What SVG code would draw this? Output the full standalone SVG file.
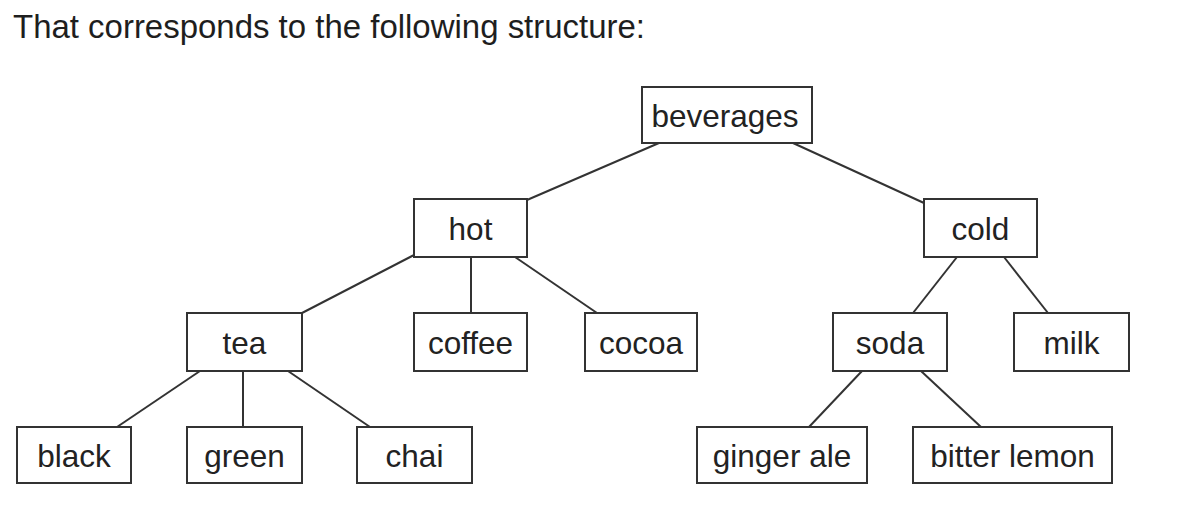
<svg xmlns="http://www.w3.org/2000/svg" width="1190" height="508" viewBox="0 0 1190 508">
<style>
.title{font-family:"Liberation Sans",Arial,sans-serif;font-size:33px;fill:#1e1e1e}
.box{fill:#fff;stroke:#333;stroke-width:2}
.lbl{font-family:"Liberation Sans",Arial,sans-serif;font-size:31.5px;fill:#222;text-anchor:middle}
.edge{stroke:#333;stroke-width:2;fill:none}
</style>
<rect width="1190" height="508" fill="#fff"/>
<text class="title" x="13" y="38" textLength="632" lengthAdjust="spacingAndGlyphs">That corresponds to the following structure:</text>
<g id="connectors">
<line class="edge" x1="659" y1="143" x2="527" y2="200"/>
<line class="edge" x1="793" y1="143" x2="924" y2="203"/>
<line class="edge" x1="414" y1="255" x2="302" y2="313"/>
<line class="edge" x1="471" y1="257" x2="471" y2="313"/>
<line class="edge" x1="515" y1="257" x2="597" y2="313"/>
<line class="edge" x1="200" y1="371" x2="117" y2="427"/>
<line class="edge" x1="243" y1="371" x2="243" y2="427"/>
<line class="edge" x1="288" y1="371" x2="370" y2="427"/>
<line class="edge" x1="957" y1="257" x2="913" y2="313"/>
<line class="edge" x1="1004" y1="257" x2="1048" y2="313"/>
<line class="edge" x1="862" y1="371" x2="809" y2="427"/>
<line class="edge" x1="921" y1="371" x2="981" y2="427"/>
</g>
<g id="beverages"><rect class="box" x="642" y="87" width="170" height="56"/><text class="lbl" x="725" y="127">beverages</text></g>
<g id="hot"><rect class="box" x="414" y="199" width="113" height="58"/><text class="lbl" x="470.5" y="240">hot</text></g>
<g id="cold"><rect class="box" x="924" y="199" width="113" height="58"/><text class="lbl" x="980.5" y="240">cold</text></g>
<g id="tea"><rect class="box" x="187" y="313" width="115" height="58"/><text class="lbl" x="244.5" y="354">tea</text></g>
<g id="coffee"><rect class="box" x="414" y="313" width="113" height="58"/><text class="lbl" x="470.5" y="354">coffee</text></g>
<g id="cocoa"><rect class="box" x="585" y="313" width="112" height="58"/><text class="lbl" x="641" y="354">cocoa</text></g>
<g id="soda"><rect class="box" x="833" y="313" width="114" height="58"/><text class="lbl" x="890" y="354">soda</text></g>
<g id="milk"><rect class="box" x="1014" y="313" width="115" height="58"/><text class="lbl" x="1071.5" y="354">milk</text></g>
<g id="black"><rect class="box" x="17" y="427" width="114" height="56"/><text class="lbl" x="74" y="467">black</text></g>
<g id="green"><rect class="box" x="187" y="427" width="115" height="56"/><text class="lbl" x="244.5" y="467">green</text></g>
<g id="chai"><rect class="box" x="357" y="427" width="115" height="56"/><text class="lbl" x="414.5" y="467">chai</text></g>
<g id="ginger-ale"><rect class="box" x="697" y="427" width="170" height="56"/><text class="lbl" x="782" y="467">ginger ale</text></g>
<g id="bitter-lemon"><rect class="box" x="913" y="427" width="199" height="56"/><text class="lbl" x="1012.5" y="467">bitter lemon</text></g>
</svg>
